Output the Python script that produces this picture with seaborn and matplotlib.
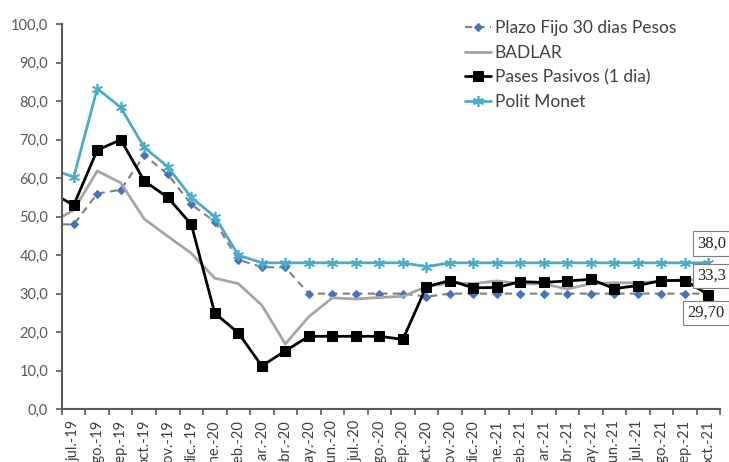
import numpy as np
import pandas as pd
import matplotlib
matplotlib.use("Agg")
import matplotlib.pyplot as plt
import seaborn as sns

# jun.-19 is only there so the lines enter from the left edge (clipped)
meses = ["jun.-19", "jul.-19", "ago.-19", "sep.-19", "oct.-19", "nov.-19", "dic.-19",
         "ene.-20", "feb.-20", "mar.-20", "abr.-20", "may.-20", "jun.-20", "jul.-20",
         "ago.-20", "sep.-20", "oct.-20", "nov.-20", "dic.-20", "ene.-21", "feb.-21",
         "mar.-21", "abr.-21", "may.-21", "jun.-21", "jul.-21", "ago.-21", "sep.-21",
         "oct.-21"]

plazo_fijo = [48.0, 48.0, 56.0, 57.0, 66.0, 61.0, 53.2, 48.7, 38.8, 36.9, 36.8, 30.0,
              30.0, 30.0, 30.0, 30.0, 29.2, 30.0, 30.0, 30.0, 30.0, 30.0, 30.0, 30.0,
              30.0, 30.0, 30.0, 30.0, 30.0]
badlar = [48.3, 51.7, 61.9, 58.8, 49.4, 44.9, 40.5, 34.0, 32.6, 27.0, 16.9, 24.0,
          28.9, 28.6, 29.0, 29.3, 31.8, 32.8, 32.6, 33.3, 32.6, 32.5, 31.2, 32.6,
          32.8, 32.8, 33.2, 33.7, 33.3]
pases = [56.4, 53.0, 67.3, 70.0, 59.3, 55.0, 48.0, 24.9, 19.8, 11.2, 15.1, 18.9,
         18.9, 18.9, 18.9, 18.1, 31.8, 33.4, 31.5, 31.6, 33.1, 32.9, 33.3, 33.7,
         31.3, 32.1, 33.4, 33.4, 29.7]
polit = [62.5, 60.3, 83.3, 78.4, 68.0, 63.0, 55.0, 50.0, 40.0, 38.0, 38.0, 38.0,
         38.0, 38.0, 38.0, 38.0, 37.0, 38.0, 38.0, 38.0, 38.0, 38.0, 38.0, 38.0,
         38.0, 38.0, 38.0, 38.0, 38.0]

sns.set_style("white")
plt.rcParams['font.family'] = ['Lato', 'DejaVu Sans']

df = pd.DataFrame({"pos": np.arange(len(meses)) - 1, "mes": meses,
                   "plazo": plazo_fijo, "badlar": badlar,
                   "pases": pases, "polit": polit})

fig = plt.figure(figsize=(7.29, 4.62), dpi=100)
ax = fig.add_axes([0.085, 0.1147, 0.903, 0.8326])

sns.lineplot(data=df, x="pos", y="plazo", ax=ax, color="#7F7F7F", lw=1.5,
             linestyle=(0, (3.5, 2.5)), marker="D", markersize=4,
             markerfacecolor="#4472C4", markeredgecolor="#4472C4",
             label="Plazo Fijo 30 dias Pesos")
sns.lineplot(data=df, x="pos", y="badlar", ax=ax, color="#A5A5A5", lw=2,
             label="BADLAR")
sns.lineplot(data=df, x="pos", y="pases", ax=ax, color="black", lw=2,
             marker="s", markersize=7, markeredgecolor="black",
             label="Pases Pasivos (1 dia)")
sns.lineplot(data=df, x="pos", y="polit", ax=ax, color="#4BACC6", lw=2,
             marker=(6, 2, 0), markersize=8, markeredgewidth=1.2,
             markeredgecolor="#4BACC6", label="Polit Monet")

ax.set_xlim(-0.5, len(meses) - 1.5)
ax.set_ylim(0, 100)
ax.set_yticks(np.arange(0, 101, 10))
ax.set_yticklabels([f"{v:.1f}".replace(".", ",") for v in np.arange(0, 101, 10)])

ax.set_xticks(np.arange(-0.5, len(meses) - 1, 1))
ax.set_xticklabels([])
ax.set_xticks(np.arange(0, len(meses) - 1), minor=True)
ax.set_xticklabels(meses[1:], minor=True, rotation=90)
ax.tick_params(axis="x", which="major", length=4, width=1.2, color="#595959",
               direction="out", bottom=True)
ax.tick_params(axis="x", which="minor", length=0, pad=8, labelsize=10.5,
               labelcolor="#404040")
ax.tick_params(axis="y", length=4, width=1.2, color="#595959", direction="out",
               left=True, pad=6, labelsize=10.5, labelcolor="#595959")

ax.set_xlabel("")
ax.set_ylabel("")
sns.despine(ax=ax)
for s in ["left", "bottom"]:
    ax.spines[s].set_color("#595959")
    ax.spines[s].set_linewidth(1.5)

box = dict(boxstyle="square,pad=0.25", fc="white", ec="#7F7F7F", lw=0.8)
last = len(meses) - 2
ax.annotate(f"{polit[-1]:.1f}".replace(".", ","), xy=(last, polit[-1]),
            xytext=(-8, 14), textcoords="offset points", ha="left", va="center",
            fontsize=12, family="Liberation Serif", bbox=box, annotation_clip=False,
            arrowprops=dict(arrowstyle="-", color="#7F7F7F", lw=0.8))
ax.annotate(f"{badlar[-1]:.1f}".replace(".", ","), xy=(last, badlar[-1]),
            xytext=(-8, 3.5), textcoords="offset points", ha="left", va="center",
            fontsize=12, family="Liberation Serif", bbox=box, annotation_clip=False)
ax.annotate(f"{pases[-1]:.2f}".replace(".", ","), xy=(last, pases[-1]),
            xytext=(-15, -13), textcoords="offset points", ha="left", va="center",
            fontsize=12, family="Liberation Serif", bbox=box, annotation_clip=False)

leg = ax.legend(loc="upper left", bbox_to_anchor=(465 / 729, 1 - 20 / 462),
                bbox_transform=fig.transFigure, frameon=False, fontsize=12.5,
                handlelength=1.5, handletextpad=0.2, labelspacing=0.5,
                borderpad=0, borderaxespad=0)
for t in leg.get_texts():
    t.set_color("#404040")

fig.savefig("out.png", dpi=100)
